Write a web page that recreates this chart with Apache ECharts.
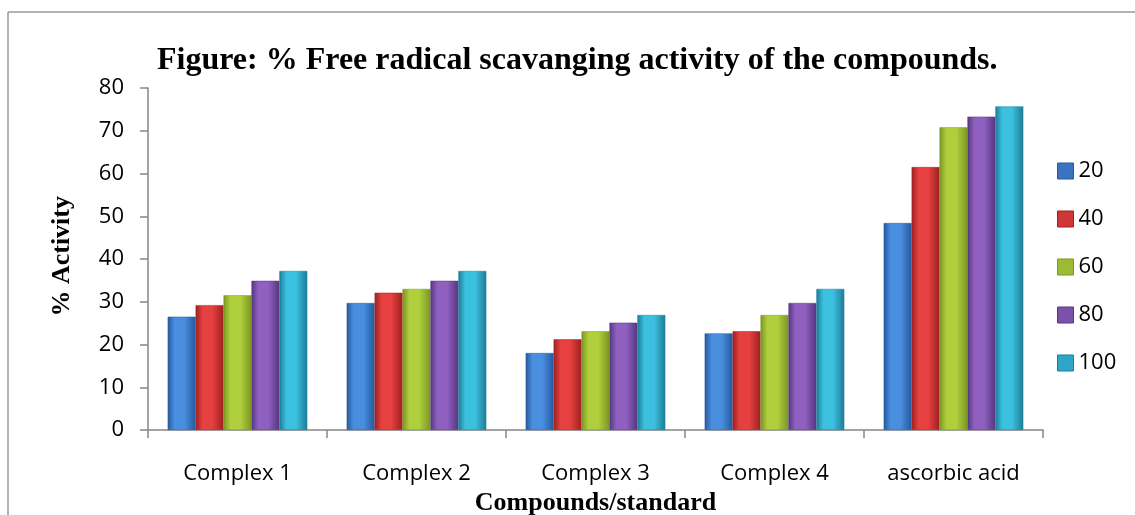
<!DOCTYPE html>
<html>
<head>
<meta charset="utf-8">
<style>
  html, body { margin: 0; padding: 0; background: #ffffff; }
  #chart { width: 1135px; height: 515px; }
</style>
<script src="https://cdn.jsdelivr.net/npm/echarts@6/dist/echarts.min.js"></script>
</head>
<body>
<div id="chart"></div>
<script>
// Compounds / standard on the x axis
const categories = ['Complex 1', 'Complex 2', 'Complex 3', 'Complex 4', 'ascorbic acid'];

// Concentrations (legend entries)
const concentrations = ['20', '40', '60', '80', '100'];

// % scavenging activity per concentration, one value per compound
const act20  = [26.5, 29.7, 18.0, 22.6, 48.4];
const act40  = [29.2, 32.1, 21.2, 23.1, 61.5];
const act60  = [31.5, 33.0, 23.1, 26.9, 70.8];
const act80  = [34.9, 34.9, 25.1, 29.7, 73.3];
const act100 = [37.2, 37.2, 26.9, 33.0, 75.7];

const yTicks = { min: 0, max: 80, interval: 10 };

const seriesValues = [act20, act40, act60, act80, act100];

// body / edge shades for the bevelled bars
const palette = [
  { mid: '#4a8ee0', edge: '#25599e', icon: '#3a74c0' },
  { mid: '#e64040', edge: '#9e2020', icon: '#d03636' },
  { mid: '#b0cf3c', edge: '#7a9624', icon: '#9bbb34' },
  { mid: '#9060c0', edge: '#553680', icon: '#7a52aa' },
  { mid: '#3cc0e0', edge: '#1d7c96', icon: '#2ea6c6' }
];

function barFill(p) {
  return new echarts.graphic.LinearGradient(0, 0, 1, 0, [
    { offset: 0, color: p.edge },
    { offset: 0.25, color: p.mid },
    { offset: 0.6, color: p.mid },
    { offset: 1, color: p.edge }
  ]);
}

const chart = echarts.init(document.getElementById('chart'), null, { renderer: 'canvas' });

const labelFont = '"Open Sans", "Noto Sans", sans-serif';
const serifFont = '"Liberation Serif", "DejaVu Serif", serif';

chart.setOption({
  animation: false,
  backgroundColor: '#ffffff',
  title: {
    text: 'Figure: % Free radical scavanging activity of the compounds.',
    left: 152,
    top: 40,
    textStyle: { fontFamily: serifFont, fontWeight: 'bold', fontSize: 32, color: '#000000' }
  },
  legend: {
    orient: 'vertical',
    left: 1052,
    top: 155,
    itemWidth: 16,
    itemHeight: 16,
    itemGap: 26,
    icon: 'rect',
    textStyle: { fontFamily: labelFont, fontSize: 22, color: '#000000', padding: [0, 0, 0, 0] },
    data: concentrations.map((c, i) => ({
      name: c,
      itemStyle: { color: palette[i].icon, borderColor: palette[i].edge, borderWidth: 1 }
    }))
  },
  grid: { left: 148, right: 92, top: 88, bottom: 85, containLabel: false, outerBoundsMode: 'none' },
  xAxis: {
    type: 'category',
    data: categories,
    name: 'Compounds/standard',
    nameLocation: 'middle',
    nameGap: 59,
    nameTextStyle: { fontFamily: serifFont, fontWeight: 'bold', fontSize: 26, color: '#000000' },
    axisLine: { lineStyle: { color: '#868686', width: 1.5 } },
    axisTick: { show: true, length: 8, lineStyle: { color: '#868686', width: 1.5 } },
    axisLabel: { fontFamily: labelFont, fontSize: 22, color: '#000000', margin: 33 }
  },
  yAxis: {
    type: 'value',
    min: yTicks.min,
    max: yTicks.max,
    interval: yTicks.interval,
    axisLine: { show: true, lineStyle: { color: '#868686', width: 1.5 } },
    axisTick: { show: true, length: 8, lineStyle: { color: '#868686', width: 1.5 } },
    splitLine: { show: false },
    axisLabel: { fontFamily: labelFont, fontSize: 22, color: '#000000', margin: 24 }
  },
  series: seriesValues.map((vals, i) => ({
    name: concentrations[i],
    type: 'bar',
    data: vals,
    barGap: '0%',
    barCategoryGap: '22%',
    itemStyle: { color: barFill(palette[i]), borderColor: palette[i].edge, borderWidth: 0.5 }
  })),
  graphic: [
    // frame: top and left edges
    { type: 'line', shape: { x1: 8, y1: 12, x2: 1135, y2: 12 }, style: { stroke: '#9a9a9a', lineWidth: 1.5 } },
    { type: 'line', shape: { x1: 8, y1: 12, x2: 8, y2: 515 }, style: { stroke: '#9a9a9a', lineWidth: 1.5 } },
    // y axis title
    {
      type: 'text', left: 49, top: 196, rotation: Math.PI / 2,
      style: { text: '% Activity', font: 'bold 26px ' + serifFont, fill: '#000000' }
    }
  ]
});
</script>
</body>
</html>
